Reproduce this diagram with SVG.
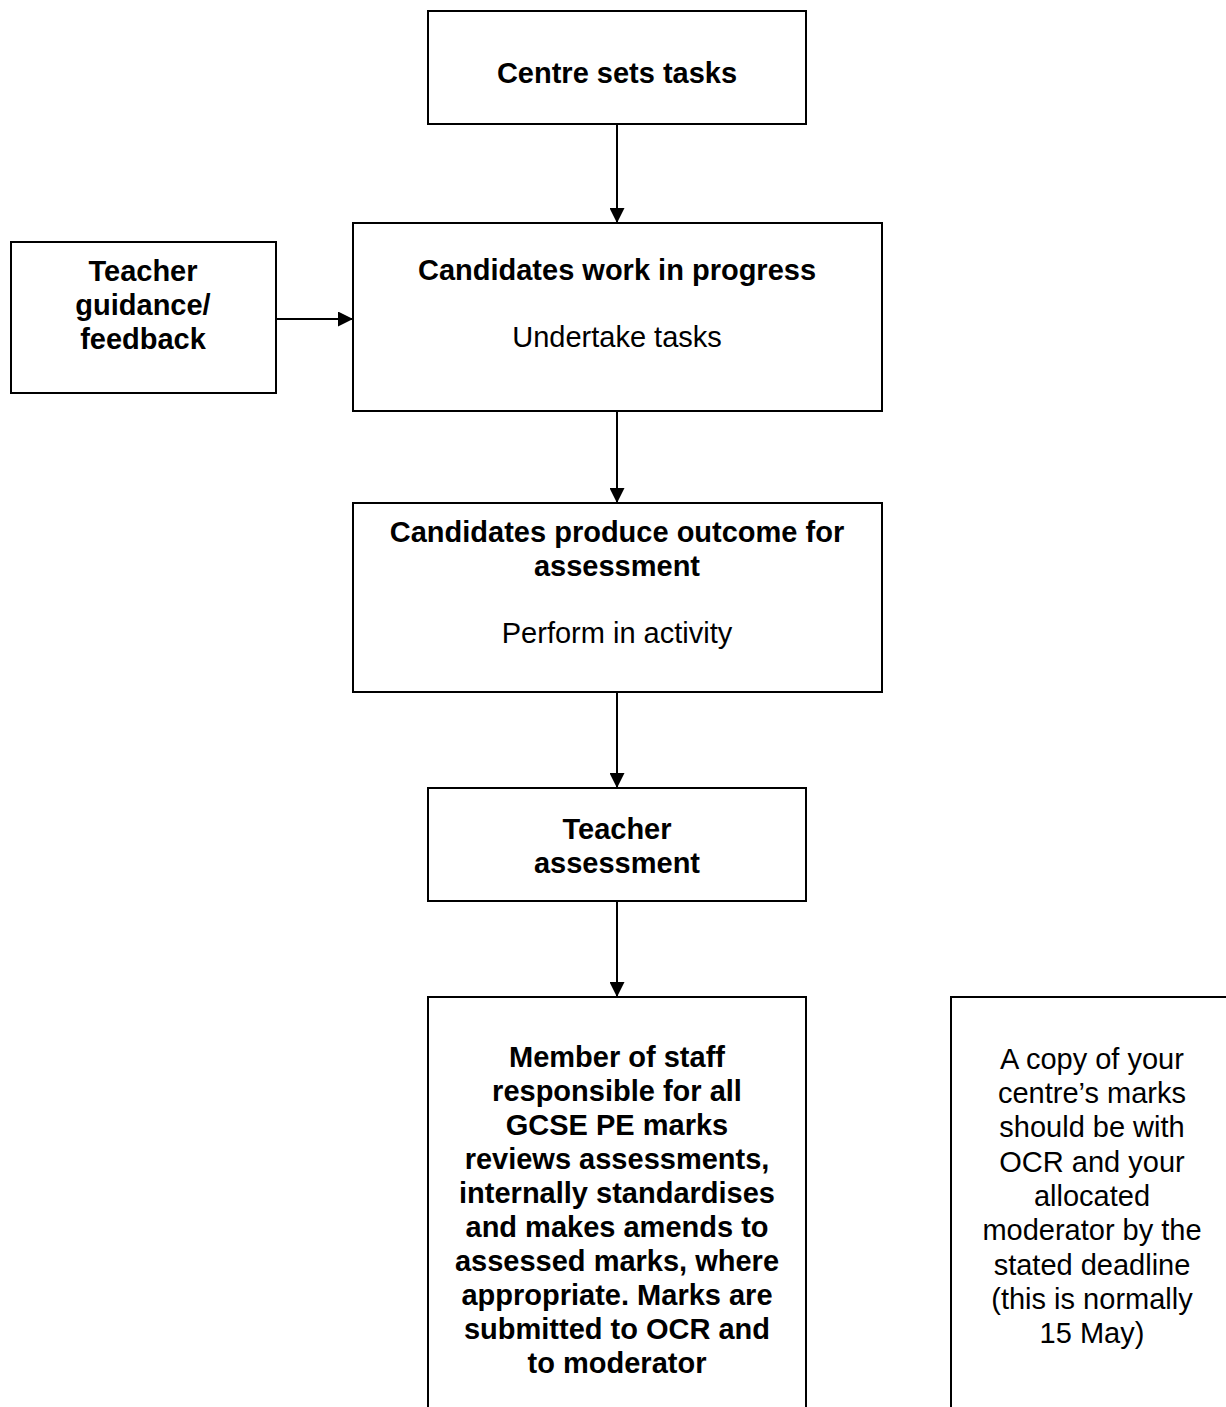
<svg xmlns="http://www.w3.org/2000/svg" width="1226" height="1407" viewBox="0 0 1226 1407">
<style>
.box{fill:#fff;stroke:#000;stroke-width:2}
.t{font-family:"Liberation Sans",Arial,sans-serif;font-size:29px;text-anchor:middle;fill:#000}
.b{font-weight:bold}
.c{stroke:#000;stroke-width:2;fill:none}
</style>
<defs>
<marker id="ah" viewBox="0 0 10 10" refX="10" refY="5" markerWidth="15" markerHeight="15" markerUnits="userSpaceOnUse" orient="auto">
<path d="M0,0 L10,5 L0,10 Z" fill="#000"/>
</marker>
</defs>
<rect width="1226" height="1407" fill="#fff"/>
<g id="connectors">
<line class="c" x1="617" y1="124" x2="617" y2="223" marker-end="url(#ah)"/>
<line class="c" x1="276" y1="319" x2="353" y2="319" marker-end="url(#ah)"/>
<line class="c" x1="617" y1="411" x2="617" y2="503" marker-end="url(#ah)"/>
<line class="c" x1="617" y1="692" x2="617" y2="788" marker-end="url(#ah)"/>
<line class="c" x1="617" y1="901" x2="617" y2="997" marker-end="url(#ah)"/>
</g>
<g id="centre-sets-tasks">
<rect class="box" x="428" y="11" width="378" height="113"/>
<text class="t b" x="617" y="83">Centre sets tasks</text>
</g>
<g id="teacher-guidance">
<rect class="box" x="11" y="242" width="265" height="151"/>
<text class="t b" x="143" y="281">Teacher</text>
<text class="t b" x="143" y="315">guidance/</text>
<text class="t b" x="143" y="349">feedback</text>
</g>
<g id="candidates-work">
<rect class="box" x="353" y="223" width="529" height="188"/>
<text class="t b" x="617" y="280">Candidates work in progress</text>
<text class="t" x="617" y="347">Undertake tasks</text>
</g>
<g id="candidates-produce">
<rect class="box" x="353" y="503" width="529" height="189"/>
<text class="t b" x="617" y="542">Candidates produce outcome for</text>
<text class="t b" x="617" y="576">assessment</text>
<text class="t" x="617" y="643">Perform in activity</text>
</g>
<g id="teacher-assessment">
<rect class="box" x="428" y="788" width="378" height="113"/>
<text class="t b" x="617" y="839">Teacher</text>
<text class="t b" x="617" y="873">assessment</text>
</g>
<g id="member-of-staff">
<rect class="box" x="428" y="997" width="378" height="430"/>
<text class="t b" x="617" y="1067">Member of staff</text>
<text class="t b" x="617" y="1101">responsible for all</text>
<text class="t b" x="617" y="1135">GCSE PE marks</text>
<text class="t b" x="617" y="1169">reviews assessments,</text>
<text class="t b" x="617" y="1203">internally standardises</text>
<text class="t b" x="617" y="1237">and makes amends to</text>
<text class="t b" x="617" y="1271">assessed marks, where</text>
<text class="t b" x="617" y="1305">appropriate. Marks are</text>
<text class="t b" x="617" y="1339">submitted to OCR and</text>
<text class="t b" x="617" y="1373">to moderator</text>
</g>
<g id="copy-of-marks">
<rect class="box" x="951" y="997" width="300" height="430"/>
<text class="t" x="1092" y="1069">A copy of your</text>
<text class="t" x="1092" y="1103">centre’s marks</text>
<text class="t" x="1092" y="1137">should be with</text>
<text class="t" x="1092" y="1172">OCR and your</text>
<text class="t" x="1092" y="1206">allocated</text>
<text class="t" x="1092" y="1240">moderator by the</text>
<text class="t" x="1092" y="1275">stated deadline</text>
<text class="t" x="1092" y="1309">(this is normally</text>
<text class="t" x="1092" y="1343">15 May)</text>
</g>
</svg>
